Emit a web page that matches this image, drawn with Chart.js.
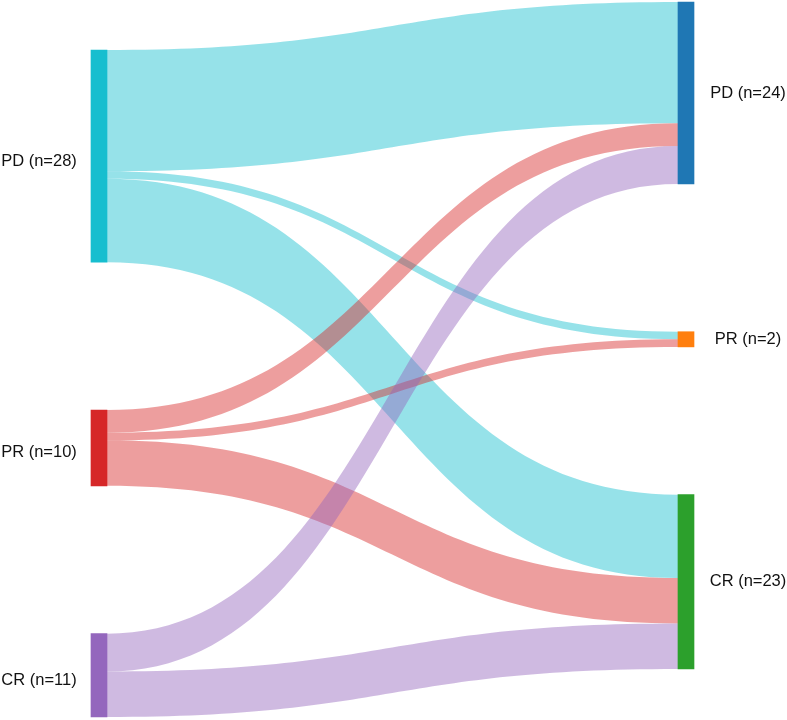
<!DOCTYPE html>
<html lang="en">
<head>
    <meta charset="UTF-8">
    <title>Response flow</title>
    <script src="https://cdn.jsdelivr.net/npm/chart.js@4.4.1/dist/chart.umd.min.js"></script>
    <style>
        html, body { margin: 0; padding: 0; background: #fff; }
        #wrap { width: 787px; height: 720px; }
    </style>
</head>
<body>
<div id="wrap"><canvas id="sankey"></canvas></div>
<script>
    // nodes, before (left) and after (right)
    const leftLabels = ['PD (n=28)', 'PR (n=10)', 'CR (n=11)'];
    const rightLabels = ['PD (n=24)', 'PR (n=2)', 'CR (n=23)'];
    const leftColors = ['#17becf', '#d62728', '#9467bd'];
    const rightColors = ['#1f77b4', '#ff7f0e', '#2ca02c'];

    // links left -> right
    const linkFrom = [0, 0, 0, 1, 1, 1, 2, 2];
    const linkTo = [0, 1, 2, 0, 1, 2, 0, 2];
    const linkValue = [16, 1, 11, 3, 1, 6, 5, 6];

    // layout (in value units)
    const GAP = 19.5;
    const COL_START = [6.33, 0];
    const Y_MAX = 94.46;
    const NODE_PX = 16;

    function nodeSizes(idx) {
        var sizes = [0, 0, 0];
        for (var i = 0; i < linkValue.length; i++) sizes[idx[i]] += linkValue[i];
        return sizes;
    }
    function nodeTops(sizes, start) {
        var tops = [], y = start;
        for (var i = 0; i < sizes.length; i++) { tops.push(y); y += sizes[i] + GAP; }
        return tops;
    }
    var leftSize = nodeSizes(linkFrom), rightSize = nodeSizes(linkTo);
    var leftTop = nodeTops(leftSize, COL_START[0]), rightTop = nodeTops(rightSize, COL_START[1]);

    var nodeData = [], nodeColors = [];
    for (var i = 0; i < 3; i++) {
        nodeData.push({x: 0, y: [leftTop[i], leftTop[i] + leftSize[i]]});
        nodeColors.push(leftColors[i]);
    }
    for (var j = 0; j < 3; j++) {
        nodeData.push({x: 1, y: [rightTop[j], rightTop[j] + rightSize[j]]});
        nodeColors.push(rightColors[j]);
    }

    function withAlpha(hex, a) {
        var n = parseInt(hex.slice(1), 16);
        return 'rgba(' + (n >> 16) + ',' + ((n >> 8) & 255) + ',' + (n & 255) + ',' + a + ')';
    }

    const flowPlugin = {
        id: 'flows',
        beforeDatasetsDraw(chart) {
            var ctx = chart.ctx, xs = chart.scales.x, ys = chart.scales.y;
            var x0 = xs.getPixelForValue(0) + NODE_PX / 2;
            var x1 = xs.getPixelForValue(1) - NODE_PX / 2;
            var xm = (x0 + x1) / 2;
            var srcOff = [0, 0, 0], dstOff = [0, 0, 0];
            ctx.save();
            for (var k = 0; k < linkValue.length; k++) {
                var s = linkFrom[k], t = linkTo[k], v = linkValue[k];
                var a0 = ys.getPixelForValue(leftTop[s] + srcOff[s]);
                var b0 = ys.getPixelForValue(leftTop[s] + srcOff[s] + v);
                var a1 = ys.getPixelForValue(rightTop[t] + dstOff[t]);
                var b1 = ys.getPixelForValue(rightTop[t] + dstOff[t] + v);
                srcOff[s] += v;
                dstOff[t] += v;
                ctx.beginPath();
                ctx.moveTo(x0, a0);
                ctx.bezierCurveTo(xm, a0, xm, a1, x1, a1);
                ctx.lineTo(x1, b1);
                ctx.bezierCurveTo(xm, b1, xm, b0, x0, b0);
                ctx.closePath();
                ctx.fillStyle = withAlpha(leftColors[s], 0.45);
                ctx.fill();
            }
            ctx.restore();
        },
        afterDatasetsDraw(chart) {
            var ctx = chart.ctx, xs = chart.scales.x, ys = chart.scales.y;
            ctx.save();
            ctx.font = '16.5px "Liberation Sans", Arial, sans-serif';
            ctx.fillStyle = '#111';
            ctx.textAlign = 'center';
            ctx.textBaseline = 'middle';
            var lx = xs.getPixelForValue(0) - NODE_PX / 2 - 52;
            var rx = xs.getPixelForValue(1) + NODE_PX / 2 + 54;
            for (var i = 0; i < 3; i++) {
                ctx.fillText(leftLabels[i], lx, ys.getPixelForValue(leftTop[i] + leftSize[i] / 2) + 5);
                ctx.fillText(rightLabels[i], rx, ys.getPixelForValue(rightTop[i] + rightSize[i] / 2));
            }
            ctx.restore();
        }
    };

    new Chart(document.getElementById('sankey'), {
        type: 'bar',
        data: {
            datasets: [{
                data: nodeData,
                backgroundColor: nodeColors,
                borderWidth: 0,
                barThickness: NODE_PX,
                clip: false
            }]
        },
        options: {
            responsive: true,
            maintainAspectRatio: false,
            animation: false,
            layout: { padding: { left: 99, right: 101, top: 2, bottom: 2 } },
            plugins: { legend: { display: false }, tooltip: { enabled: false } },
            scales: {
                x: { type: 'linear', min: 0, max: 1, offset: false, display: false },
                y: { type: 'linear', min: 0, max: Y_MAX, reverse: true, display: false }
            }
        },
        plugins: [flowPlugin]
    });
</script>
</body>
</html>
